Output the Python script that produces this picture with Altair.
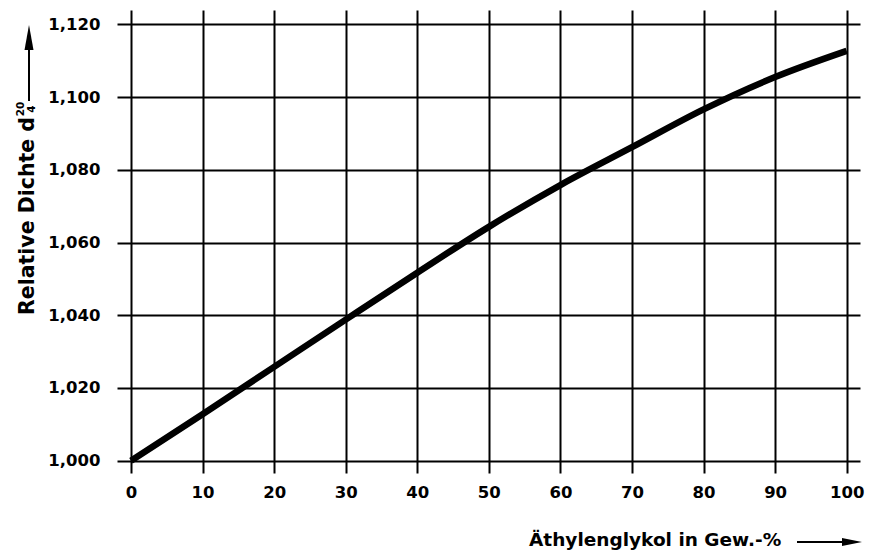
import altair as alt
import pandas as pd

# Data
glykol_pct = [0, 10, 20, 30, 40, 50, 60, 70, 80, 90, 100]
dichte = [1.000, 1.0128, 1.0258, 1.0388, 1.0517, 1.0643, 1.0758, 1.0862, 1.0966, 1.1055, 1.1127]

x_ticks = [0, 10, 20, 30, 40, 50, 60, 70, 80, 90, 100]
y_ticks = [1.000, 1.020, 1.040, 1.060, 1.080, 1.100, 1.120]

x_title = "Äthylenglykol in Gew.-%"
y_title = "Relative Dichte d"
y_sup = "20"
y_sub = "4"

FONT = "DejaVu Sans"

df = pd.DataFrame({"pct": glykol_pct, "d": dichte})
one = pd.DataFrame({"k": [0]})

# plot-area origin in page pixels (incl. 8px body margin)
OX, OY = 117, 10
W, H = 743, 463


def px(x):
    return x - OX


def py(y):
    return y - OY


line = alt.Chart(df).mark_line(
    color="black", strokeWidth=6.5, interpolate="monotone", strokeCap="butt"
).encode(
    x=alt.X(
        "pct:Q",
        scale=alt.Scale(domain=[-1.956, 101.86], nice=False, zero=False),
        axis=alt.Axis(
            values=x_ticks, grid=True, gridColor="black", gridWidth=2, gridOpacity=1,
            domain=False, ticks=False, tickSize=0, labelPadding=11, title=None,
            labelFont=FONT, labelFontWeight="bold", labelFontSize=16.5, labelColor="black",
        ),
    ),
    y=alt.Y(
        "d:Q",
        scale=alt.Scale(domain=[0.99662, 1.12393], nice=False, zero=False),
        axis=alt.Axis(
            values=y_ticks, grid=True, gridColor="black", gridWidth=2, gridOpacity=1,
            domain=False, ticks=False, tickSize=0, labelPadding=17, title=None,
            labelExpr="replace(format(datum.value, '.3f'), '.', ',')",
            labelFont=FONT, labelFontWeight="bold", labelFontSize=16.5, labelColor="black",
        ),
    ),
)

# Y title (rotated) with super/subscript
ytxt = alt.Chart(one).mark_text(
    text=y_title, angle=270, align="center", baseline="middle",
    font=FONT, fontWeight="bold", fontSize=20.5, color="black",
).encode(x=alt.value(px(28)), y=alt.value(py(216)))

ysup = alt.Chart(one).mark_text(
    text=y_sup, angle=270, align="center", baseline="middle",
    font=FONT, fontWeight="bold", fontSize=10.5, color="black",
).encode(x=alt.value(px(21)), y=alt.value(py(109)))

ysub = alt.Chart(one).mark_text(
    text=y_sub, angle=270, align="center", baseline="middle",
    font=FONT, fontWeight="bold", fontSize=10.5, color="black",
).encode(x=alt.value(px(32)), y=alt.value(py(109)))

yarrow_line = alt.Chart(one).mark_rule(color="black", strokeWidth=2).encode(
    x=alt.value(px(29)), y=alt.value(py(101)), y2=alt.value(py(45))
)
yarrow_head = alt.Chart(one).mark_point(
    shape="M0,-1L0.36,1L-0.36,1Z", filled=True, size=625, color="black", opacity=1, strokeWidth=0
).encode(x=alt.value(px(29)), y=alt.value(py(37.5)))

# X title with arrow
xtxt = alt.Chart(one).mark_text(
    text=x_title, align="left", baseline="alphabetic",
    font=FONT, fontWeight="bold", fontSize=18.5, color="black",
).encode(x=alt.value(px(529)), y=alt.value(py(546)))

xarrow_line = alt.Chart(one).mark_rule(color="black", strokeWidth=2).encode(
    x=alt.value(px(797)), x2=alt.value(px(846)), y=alt.value(py(542))
)
xarrow_head = alt.Chart(one).mark_point(
    shape="M1,0L-1,-0.4L-1,0.4Z", filled=True, size=400, color="black", opacity=1, strokeWidth=0
).encode(x=alt.value(px(852)), y=alt.value(py(542)))

chart = alt.layer(
    line, ytxt, ysup, ysub, yarrow_line, yarrow_head, xtxt, xarrow_line, xarrow_head
).properties(
    width=W, height=H,
    autosize=alt.AutoSizeParams(type="none"),
    padding={"left": 109, "top": 2, "right": 5, "bottom": 80},
    background="white",
).configure_view(stroke=None)

chart.save("out.html", embed_options={"renderer": "svg", "actions": False})
